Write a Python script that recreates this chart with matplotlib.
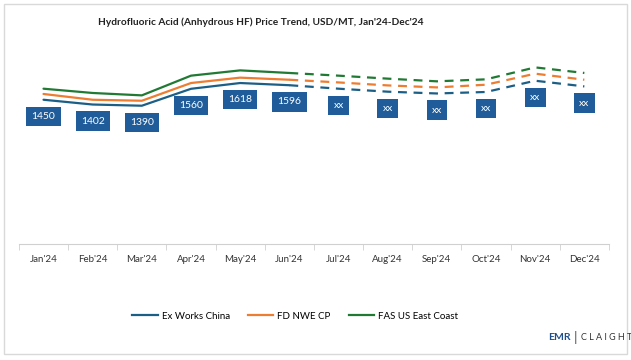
import matplotlib.pyplot as plt
import matplotlib.lines as mlines

# data
months = ["Jan'24", "Feb'24", "Mar'24", "Apr'24", "May'24", "Jun'24",
          "Jul'24", "Aug'24", "Sep'24", "Oct'24", "Nov'24", "Dec'24"]
ex_works_china = [1450, 1402, 1390, 1560, 1618, 1596, 1561, 1531, 1513, 1528, 1641, 1584]
fd_nwe_cp = [1508, 1450, 1440, 1618, 1672, 1651, 1624, 1594, 1574, 1601, 1712, 1651]
fas_us_east = [1561, 1518, 1494, 1692, 1745, 1719, 1692, 1662, 1635, 1655, 1775, 1719]
labels = ["1450", "1402", "1390", "1560", "1618", "1596", "xx", "xx", "xx", "xx", "xx", "xx"]
n_actual = 6  # Jan-Jun solid, rest dashed

c_blue = '#1c5f86'
c_orange = '#ed7d31'
c_green = '#217a34'
c_box = '#1f5c99'

plt.rcParams['font.family'] = ['Lato', 'DejaVu Sans']

fig = plt.figure(figsize=(6.31, 3.6), dpi=100)
ax = fig.add_axes([0.030, 0.322, 0.935, 0.553])

x = list(range(len(months)))
for vals, col in [(ex_works_china, c_blue), (fd_nwe_cp, c_orange), (fas_us_east, c_green)]:
    ax.plot(x[:n_actual], vals[:n_actual], color=col, lw=1.6, solid_capstyle='round')
    ax.plot(x[n_actual - 1:], vals[n_actual - 1:], color=col, lw=1.6, ls=(0, (4, 3)))

# data labels under the blue line
for i, (v, lab) in enumerate(zip(ex_works_china, labels)):
    ax.annotate(lab, (i, v), xytext=(0, -12), textcoords='offset points',
                ha='center', va='center', color='white', fontsize=7.5,
                bbox=dict(boxstyle='square,pad=0.5', fc=c_box, ec='none'))

ax.set_xlim(-0.5, 11.5)
ax.set_ylim(0, 2000)
ax.set_yticks([])
for s in ['top', 'right', 'left']:
    ax.spines[s].set_visible(False)
ax.spines['bottom'].set_color('#d0d0d0')
ax.set_xticks(x)
ax.set_xticklabels(months, fontsize=7, color='#333333')
ax.tick_params(axis='x', length=0, pad=8)
ax.set_xticks([i - 0.5 for i in range(len(months) + 1)], minor=True)
ax.tick_params(axis='x', which='minor', length=4, color='#d0d0d0')

fig.text(0.414, 0.938, "Hydrofluoric Acid (Anhydrous HF) Price Trend, USD/MT, Jan'24-Dec'24",
         ha='center', va='center', fontsize=7.3, fontweight='bold', color='#222222')

handles = [mlines.Line2D([], [], color=c_blue, lw=1.6, label='Ex Works China'),
           mlines.Line2D([], [], color=c_orange, lw=1.6, label='FD NWE CP'),
           mlines.Line2D([], [], color=c_green, lw=1.6, label='FAS US East Coast')]
fig.legend(handles=handles, loc='center', bbox_to_anchor=(0.468, 0.122), ncol=3,
           frameon=False, fontsize=7, handlelength=2.6, columnspacing=1.9, handletextpad=0.4)

# logo
fig.text(0.905, 0.062, "EMR", ha='right', va='center', fontsize=7.5, fontweight='bold', color='#1f4e8c')
fig.text(0.912, 0.062, "|", ha='center', va='center', fontsize=10, color='#555555')
fig.text(0.920, 0.062, "C L A I G H T", ha='left', va='center', fontsize=6.5, color='#333333')

# border
fig.add_artist(plt.Rectangle((0.006, 0.017), 0.988, 0.972, transform=fig.transFigure,
                             fill=False, ec='#d9d9d9', lw=1))

fig.savefig('out.png', dpi=100)
